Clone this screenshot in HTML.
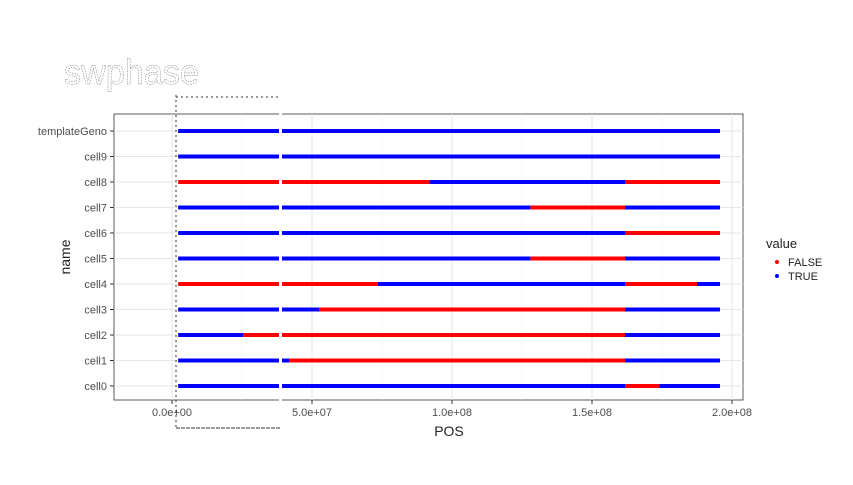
<!DOCTYPE html>
<html><head><meta charset="utf-8"><style>
body{margin:0;background:#fff;width:853px;height:480px;overflow:hidden;font-family:"Liberation Sans",sans-serif}
</style></head><body>
<svg id="chart" width="853" height="480" xmlns="http://www.w3.org/2000/svg" font-family="Liberation Sans, sans-serif">
<text x="64" y="84" font-size="35" fill="#fff" stroke="#666" stroke-width="0.45" stroke-dasharray="1.5,1" textLength="135" lengthAdjust="spacingAndGlyphs">swphase</text>
<rect x="114" y="114" width="629" height="286" fill="#fff" stroke="#333" stroke-width="0.8"/>
<g id="grid"></g><g id="marks"></g><g id="axes"></g>
<rect x="279" y="113" width="3" height="288" fill="#fff"/>
<line x1="176" y1="95" x2="176" y2="430" stroke="#333" stroke-dasharray="2,3"/>
<line x1="176" y1="97" x2="279" y2="97" stroke="#333" stroke-dasharray="2,3"/>
<line x1="176" y1="428" x2="280" y2="428" stroke="#333" stroke-dasharray="4,1"/>
<text x="449" y="436" font-size="14" fill="#222" text-anchor="middle">POS</text>
<text transform="translate(70,257) rotate(-90)" font-size="14" fill="#222" text-anchor="middle">name</text>
<text x="766" y="248" font-size="13" fill="#222">value</text>
<circle cx="777" cy="262" r="2" fill="#f00"/>
<text x="788" y="266" font-size="11" fill="#222">FALSE</text>
<circle cx="777" cy="276" r="2" fill="#00f"/>
<text x="788" y="280" font-size="11" fill="#222">TRUE</text>
</svg>
<script>
const rows=["cell0","cell1","cell2","cell3","cell4","cell5","cell6","cell7","cell8","cell9","templateGeno"];
// segments: [start, end, value] per row
const seg_cell0=[[2.2e6,161.8e6,true],[161.8e6,174e6,false],[174e6,195.7e6,true]];
const seg_cell1=[[2.2e6,41.8e6,true],[41.8e6,161.8e6,false],[161.8e6,195.7e6,true]];
const seg_cell2=[[2.2e6,25.4e6,true],[25.4e6,161.8e6,false],[161.8e6,195.7e6,true]];
const seg_cell3=[[2.2e6,52.5e6,true],[52.5e6,161.8e6,false],[161.8e6,195.7e6,true]];
const seg_cell4=[[2.2e6,73.5e6,false],[73.5e6,161.8e6,true],[161.8e6,187.5e6,false],[187.5e6,195.7e6,true]];
const seg_cell5=[[2.2e6,128e6,true],[128e6,161.8e6,false],[161.8e6,195.7e6,true]];
const seg_cell6=[[2.2e6,161.8e6,true],[161.8e6,195.7e6,false]];
const seg_cell7=[[2.2e6,128e6,true],[128e6,161.8e6,false],[161.8e6,195.7e6,true]];
const seg_cell8=[[2.2e6,92e6,false],[92e6,161.8e6,true],[161.8e6,195.7e6,false]];
const seg_cell9=[[2.2e6,195.7e6,true]];
const seg_templateGeno=[[2.2e6,195.7e6,true]];
const segs=[seg_cell0,seg_cell1,seg_cell2,seg_cell3,seg_cell4,seg_cell5,seg_cell6,seg_cell7,seg_cell8,seg_cell9,seg_templateGeno];
const xTicks=[0,5e7,1e8,1.5e8,2e8];
const xTickLabels=["0.0e+00","5.0e+07","1.0e+08","1.5e+08","2.0e+08"];
const xMinor=[2.5e7,7.5e7,1.25e8,1.75e8];
const NS="http://www.w3.org/2000/svg";
const X=v=>172+v/5e7*140;
const Y=i=>386-i*25.5;
function mk(parent,tag,attrs){const e=document.createElementNS(NS,tag);for(const k in attrs)e.setAttribute(k,attrs[k]);document.getElementById(parent).appendChild(e);return e;}
xMinor.forEach(v=>{const e=mk("grid","line",{x1:X(v),x2:X(v),y1:114,y2:400,stroke:"#f2f2f2","stroke-width":0.6});

});
xTicks.forEach((v,i)=>{const e=mk("grid","line",{x1:X(v),x2:X(v),y1:114,y2:400,stroke:"#e6e6e6","stroke-width":1});


const t=mk("axes","line",{x1:X(v),x2:X(v),y1:400,y2:404,stroke:"#333"});


const l=mk("axes","text",{x:X(v),y:416,"font-size":11,fill:"#4d4d4d","text-anchor":"middle"});l.textContent=xTickLabels[i];

});
rows.forEach((r,i)=>{const g=mk("grid","line",{x1:114,x2:743,y1:Y(i),y2:Y(i),stroke:"#e6e6e6","stroke-width":1});


const t=mk("axes","line",{x1:110,x2:114,y1:Y(i),y2:Y(i),stroke:"#333"});


const l=mk("axes","text",{x:107,y:Y(i)+4,"font-size":11,fill:"#4d4d4d","text-anchor":"end"});l.textContent=r;


segs[i].forEach(s=>{const m=mk("marks","line",{x1:X(s[0]),x2:X(s[1]),y1:Y(i),y2:Y(i),stroke:s[2]?"#00f":"#f00","stroke-width":4,"stroke-linecap":"butt"});

});});
</script>
</body></html>
